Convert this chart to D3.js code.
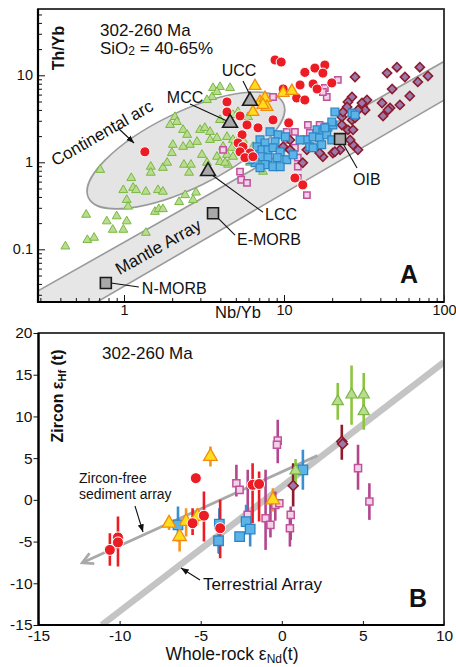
<!DOCTYPE html>
<html><head><meta charset="utf-8">
<script src="https://cdn.jsdelivr.net/npm/d3@7"></script>
<style>body{margin:0;background:#fff} text{font-family:"Liberation Sans",Arial,Helvetica,sans-serif;fill:#111}</style>
</head><body><svg id="c" width="456" height="667"></svg>
<script>
// ================= DATA =================
// Panel A: Nb/Yb vs Th/Yb (log-log)
const nbYbDomain = [0.29, 100];
const thYbDomain = [0.0248, 57.8];
const xMajorA = [1, 10, 100];
const xMajorLabelsA = ["1", "10", "100"];
const yMajorA = [0.1, 1, 10];
const yMajorLabelsA = ["0.1", "1", "10"];

const mantleUpper = [[0.1, 0.011], [200, 29.6]];
const mantleLower = [[0.1, 0.0032], [200, 10.9]];
const arcEnds = [[0.6, 0.39], [9.9, 4.8]];

const refPoints = [
  {name: "UCC", shape: "tri", v: [6.13, 5.07]},
  {name: "MCC", shape: "tri", v: [4.6, 2.83]},
  {name: "LCC", shape: "tri", v: [3.35, 0.79]},
  {name: "E-MORB", shape: "sq", v: [3.6, 0.26]},
  {name: "N-MORB", shape: "sq", v: [0.77, 0.041]},
  {name: "OIB", shape: "sq", v: [22.4, 1.85]}
];

const greenA = [[0.43,0.108],[0.59,0.128],[0.65,0.136],[0.58,0.25],[0.71,0.82],[0.78,0.21],[0.85,0.168],[0.90,0.24],[0.99,0.168],[1.04,0.21],[0.99,0.48],[1.11,0.66],[1.14,0.51],[1.19,0.48],[1.04,0.37],[1.06,0.31],[1.37,0.46],[1.37,0.155],[1.47,0.89],[1.47,0.76],[1.63,0.48],[1.75,0.46],[1.56,0.27],[1.65,0.29],[1.75,0.29],[1.75,0.865],[1.86,0.99],[2.21,0.35],[2.41,0.42],[2.70,0.37],[2.82,0.45],[2.37,0.94],[2.55,0.76],[2.62,0.94],[3.07,1.22],[3.81,1.16],[3.98,1.01],[4.47,0.94],[3.60,7.15],[3.98,7.34],[3.55,5.63],[3.30,5.2],[4.60,7.15],[3.81,6.43],[1.94,2.69],[2.08,3.32],[2.14,2.91],[2.02,1.59],[1.99,1.28],[3.98,3.07],[5.16,3.79],[4.80,3.50],[5.96,3.32],[2.34,2.36],[2.48,2.07],[2.99,2.36],[3.20,2.49],[3.45,2.24],[3.45,1.81],[3.81,1.91],[4.40,1.96],[4.80,1.81],[5.31,1.96],[5.54,1.81],[2.86,1.72],[2.58,1.59],[2.34,1.51],[4.40,1.22],[4.80,1.16],[5.87,1.16],[6.78,1.07],[3.30,0.99],[4.16,1.51],[4.73,1.47],[6.40,1.51],[4.28,0.99],[6.13,0.99],[7.39,0.78]];
const pinkA = [[21.7,8.85],[18.0,7.15],[18.5,5.63],[8.54,5.63],[17.5,6.43],[16.7,2.69],[14.1,2.69],[14.5,2.18],[10.4,2.24],[11.7,2.24],[10.4,1.81],[11.7,1.47],[12.2,1.13],[12.2,0.89],[12.2,0.66],[4.16,1.39],[5.31,0.78],[5.40,0.63],[5.87,0.58],[13.9,0.42]];
const diamondA = [[27.8,9.55],[44.1,10.6],[50.8,12.4],[57.0,9.55],[70.6,12.4],[79.4,9.8],[68.6,8.4],[47.4,6.96],[61.1,5.78],[53.0,4.57],[46.0,4.22],[41.6,3.41],[26.6,5.63],[25.1,4.94],[33.0,5.20],[31.1,4.33],[23.0,3.32],[23.0,2.69],[26.6,3.07],[25.1,2.36],[27.8,3.24],[32.1,4.0],[29.0,4.0],[23.4,3.79],[24.8,4.33],[41.0,4.81],[44.7,4.0],[27.0,2.36],[27.0,1.59],[29.0,1.39],[22.4,1.39],[20.2,1.28],[17.5,1.16],[13.9,1.39],[13.1,0.99],[9.88,1.51],[10.9,1.81],[10.9,1.39],[20.8,1.32],[25.9,1.81],[16.7,1.28],[30.7,4.81]];
const blueA = [[8.18,2.24],[9.19,2.07],[7.08,1.81],[7.61,1.67],[8.79,1.72],[6.78,1.51],[7.29,1.39],[7.94,1.39],[8.54,1.47],[9.46,1.32],[6.40,1.22],[7.29,1.16],[7.94,1.13],[9.06,1.13],[10.4,1.07],[11.4,1.22],[6.59,0.99],[7.61,0.94],[8.54,0.89],[9.46,0.89],[7.08,0.865],[6.13,1.07],[10.2,1.96],[20.8,3.79],[26.6,3.69],[27.8,3.50],[16.1,2.36],[17.5,2.24],[18.8,2.55],[20.2,2.69],[13.9,1.81],[15.2,1.96],[16.7,1.91],[18.5,2.07],[19.9,1.81],[14.5,1.51],[17.2,1.59],[19.9,2.91],[18.0,2.49],[15.2,1.47],[12.6,1.81]];
const redA = [[1.35,1.32],[4.40,4.94],[4.40,3.79],[5.31,3.41],[8.54,3.07],[10.7,2.84],[6.88,2.49],[5.47,2.07],[5.16,1.67],[5.54,1.51],[5.31,1.32],[6.13,1.28],[5.70,1.13],[6.40,1.16],[11.7,0.66],[13.1,0.55],[8.79,15.0],[9.6,14.2],[15.6,12.1],[18.0,13.1],[17.5,10.6],[13.5,10.8],[12.6,7.74],[15.2,7.95],[16.1,6.96],[19.9,8.17],[9.88,6.96],[12.0,5.49],[13.5,5.20],[5.87,2.69]];
const orangeA = [[6.59,7.53],[9.88,6.27],[11.2,6.61],[7.08,4.94],[7.61,5.49],[7.83,4.33],[6.40,3.79],[7.39,4.57]];

// Panel B: whole-rock eNd(t) vs zircon eHf(t); [eNd, eHf, errLow, errHigh]
const eNdDomain = [-15, 10];
const eHfDomain = [-15, 20];
const xTicksB = [-15, -10, -5, 0, 5, 10];
const yTicksB = [-15, -10, -5, 0, 5, 10, 15, 20];
const terrestrialArray = [[-11.1, -15], [10, 16.5]];
const sedimentArray = [[-12.3, -7.55], [2.2, 5.3]];

const pinkB = [[-2.8,2.0,0.4,4.2],[-2.6,1.2],[-2.1,-1.8,-3.4,3.6],[-1.0,-2.2,-6.0,3.6],[-0.7,-3.0,-4.5,-0.5],[-0.4,-0.6,-2.5,1.0],[-0.15,-0.4],[0.55,-1.8,-4.8,-0.8],[0.5,-3.4,-5.6,-2.0],[-0.25,7.1,4.4,9.6],[-0.3,6.6],[4.7,3.8,1.2,6.6],[5.4,-0.2,-2.4,2.0]];
const diamondB = [[3.7,7.0,4.8,9.0],[3.75,6.7],[0.7,1.7,-0.8,4.4]];
const blueB = [[-6.4,-3.0,-5.0,-0.8],[-3.85,-2.9,-6.5,-1.0],[-3.9,-4.9,-6.4,-2.8],[-2.2,-2.6,-3.6,-0.6],[-1.95,-3.5,-5.6,-1.8],[-2.6,-4.4],[1.3,3.6,1.2,6.0]];
const greenB = [[3.45,11.8,9.6,14.0],[4.3,12.6,9.0,16.1],[5.05,12.6,10.8,15.2],[5.05,10.6,8.4,12.4],[0.85,3.5,2.0,4.9]];
const orangeB = [[-6.95,-2.8,-3.6,-2.0],[-5.9,-2.6,-4.4,-1.0],[-6.3,-4.4,-6.2,-3.4],[-5.2,-2.0,-3.0,-1.0],[-4.4,5.2,4.0,6.4],[-0.55,0.0,-1.4,1.4]];
const redB = [[-10.6,-6.0,-7.9,-4.0],[-10.1,-4.5,-8.0,-2.0],[-10.1,-5.1],[-5.5,-2.8,-4.2,-1.0],[-4.8,-1.9,-5.0,1.0],[-3.8,-3.4,-7.0,0.0],[-5.3,2.6],[-1.8,1.8,-2.8,4.4],[-1.4,1.9,-2.6,3.4]];

// ================= DRAWING =================
const svg = d3.select("#c");
const defs = svg.append("defs");
defs.append("clipPath").attr("id", "clipA").append("rect").attr("x", 38).attr("y", 9).attr("width", 406).attr("height", 293);
defs.append("clipPath").attr("id", "clipB").append("rect").attr("x", 38.5).attr("y", 333).attr("width", 405.5).attr("height", 292);
defs.append("marker").attr("id", "arrB").attr("viewBox", "0 0 10 10").attr("refX", 10).attr("refY", 5)
  .attr("markerWidth", 7).attr("markerHeight", 7).attr("orient", "auto")
  .append("path").attr("d", "M0,1 L10,5 L0,9 z").attr("fill", "#111");

const sym = (type, size) => d3.symbol().type(type).size(size)();

function drawSeries(g, data, sx, sy, st) {
  g.selectAll(null).data(data).join("path")
    .attr("d", sym(st.type, st.size))
    .attr("transform", d => `translate(${sx(d[0])},${sy(d[1])})` + (st.rot ? ` rotate(${st.rot})` : ""))
    .attr("fill", st.fill).attr("stroke", st.stroke).attr("stroke-width", st.sw);
}

// ---------- Panel A ----------
const xA = d3.scaleLog().domain(nbYbDomain).range([38, 444]);
const yA = d3.scaleLog().domain(thYbDomain).range([302, 9]);
const gA = svg.append("g");
const pA = gA.append("g").attr("clip-path", "url(#clipA)");

const band = [mantleUpper[0], mantleUpper[1], mantleLower[1], mantleLower[0]];
pA.append("path").attr("d", d3.line().x(d => xA(d[0])).y(d => yA(d[1]))(band) + "Z")
  .attr("fill", "#e6e6e6").attr("stroke", "none");
[mantleUpper, mantleLower].forEach(l => pA.append("line")
  .attr("x1", xA(l[0][0])).attr("y1", yA(l[0][1])).attr("x2", xA(l[1][0])).attr("y2", yA(l[1][1]))
  .attr("stroke", "#9a9a9a").attr("stroke-width", 1.6));

{
  const p1 = [xA(arcEnds[0][0]), yA(arcEnds[0][1])], p2 = [xA(arcEnds[1][0]), yA(arcEnds[1][1])];
  const cx = (p1[0] + p2[0]) / 2, cy = (p1[1] + p2[1]) / 2;
  const rx = Math.hypot(p2[0] - p1[0], p2[1] - p1[1]) / 2;
  const ang = Math.atan2(p2[1] - p1[1], p2[0] - p1[0]) * 180 / Math.PI;
  pA.append("ellipse").attr("cx", 0).attr("cy", 0).attr("rx", rx).attr("ry", rx * 0.35)
    .attr("transform", `translate(${cx},${cy}) rotate(${ang})`)
    .attr("fill", "#e4e4e4").attr("stroke", "#9a9a9a").attr("stroke-width", 1.6);
}

drawSeries(pA, greenA, xA, yA, {type: d3.symbolTriangle, size: 34, fill: "#b9dc8e", stroke: "#79b843", sw: 1});
drawSeries(pA, pinkA, xA, yA, {type: d3.symbolSquare, size: 40, fill: "#f3d2e8", stroke: "#c0519c", sw: 1.5});
drawSeries(pA, diamondA, xA, yA, {type: d3.symbolSquare, size: 42, rot: 45, fill: "#9b79ad", stroke: "#8c1c2e", sw: 1.6});
drawSeries(pA, blueA, xA, yA, {type: d3.symbolSquare, size: 62, fill: "#5cb3e6", stroke: "#2b84c6", sw: 1.2});
drawSeries(pA, redA, xA, yA, {type: d3.symbolCircle, size: 80, fill: "#ec1c24", stroke: "#fff", sw: 1});
drawSeries(pA, orangeA, xA, yA, {type: d3.symbolTriangle, size: 60, fill: "#ffdc1e", stroke: "#f28c0f", sw: 1.3});

// reference points + labels
const refLab = {
  "UCC": {dx: -11, dy: -25, anchor: "middle", l: [[-7, -20], [0, -6]]},
  "MCC": {dx: -45, dy: -20, anchor: "middle", l: [[-40, -19], [-3, -2]]},
  "LCC": {dx: 57, dy: 49, anchor: "start", l: [[3, 3], [55, 41]]},
  "E-MORB": {dx: 24, dy: 32, anchor: "start", l: [[4, 4], [22, 22]]},
  "N-MORB": {dx: 36, dy: 11, anchor: "start", l: [[5, 0], [33, 4]]},
  "OIB": {dx: 13, dy: 46, anchor: "start", l: [[2, 3], [17, 29]]}
};
refPoints.forEach(r => {
  const px = xA(r.v[0]), py = yA(r.v[1]), L = refLab[r.name];
  gA.append("line").attr("x1", px + L.l[0][0]).attr("y1", py + L.l[0][1]).attr("x2", px + L.l[1][0]).attr("y2", py + L.l[1][1])
    .attr("stroke", "#111").attr("stroke-width", 1.1);
  gA.append("path").attr("d", r.shape === "tri" ? sym(d3.symbolTriangle, 95) : sym(d3.symbolSquare, 120))
    .attr("transform", `translate(${px},${py})`).attr("fill", "#a9a9a9").attr("stroke", "#1a1a1a").attr("stroke-width", 1.6);
  gA.append("text").attr("x", px + L.dx).attr("y", py + L.dy).attr("text-anchor", L.anchor)
    .attr("font-size", 16).text(r.name);
});

// axes A
function minorLog(dom) {
  const out = [];
  for (let e = -3; e <= 3; e++) for (let k = 2; k <= 9; k++) {
    const v = k * Math.pow(10, e);
    if (v > dom[0] && v < dom[1]) out.push(v);
  }
  return out;
}
const axA = gA.append("g").attr("transform", "translate(0,302)");
axA.call(d3.axisBottom(xA).tickValues(minorLog(nbYbDomain)).tickSize(-4).tickFormat(""));
axA.call(g => g.select(".domain").remove());
const axA2 = gA.append("g").attr("transform", "translate(0,302)");
axA2.call(d3.axisBottom(xA).tickValues(xMajorA).tickSize(-7).tickPadding(3).tickFormat((d, i) => xMajorLabelsA[i]));
axA2.select(".domain").remove();
const ayA = gA.append("g").attr("transform", "translate(38,0)");
ayA.call(d3.axisLeft(yA).tickValues(minorLog(thYbDomain)).tickSize(-4).tickFormat(""));
ayA.select(".domain").remove();
const ayA2 = gA.append("g").attr("transform", "translate(38,0)");
ayA2.call(d3.axisLeft(yA).tickValues(yMajorA).tickSize(-7).tickPadding(5).tickFormat((d, i) => yMajorLabelsA[i]));
ayA2.select(".domain").remove();
gA.selectAll(".tick text").attr("font-size", 14.5).attr("font-family", "Liberation Sans, Arial, sans-serif").attr("fill", "#111");
gA.selectAll(".tick line").attr("stroke", "#111");

gA.append("rect").attr("x", 38).attr("y", 9).attr("width", 406).attr("height", 293)
  .attr("fill", "none").attr("stroke", "#2a2a2a").attr("stroke-width", 1.8);
gA.append("path").attr("d", "M38,9 V302 H444").attr("fill", "none").attr("stroke", "#000").attr("stroke-width", 2.2);

// texts A
gA.append("text").attr("x", 100).attr("y", 36).attr("font-size", 17).text("302-260 Ma");
{
  const t = gA.append("text").attr("x", 100).attr("y", 54).attr("font-size", 17);
  t.append("tspan").text("SiO");
  t.append("tspan").attr("font-size", 12).attr("dy", 1).text("2");
  t.append("tspan").attr("dy", -1).text(" = 40-65%");
}
gA.append("text").attr("transform", "translate(64,48) rotate(-90)").attr("text-anchor", "middle")
  .attr("font-size", 16).attr("font-weight", "bold").text("Th/Yb");
gA.append("text").attr("x", 238).attr("y", 318).attr("text-anchor", "middle").attr("font-size", 16.5).text("Nb/Yb");
gA.append("text").attr("transform", "translate(105,138) rotate(-30)").attr("text-anchor", "middle")
  .attr("font-size", 17).text("Continental arc");
gA.append("line").attr("x1", 118).attr("y1", 128).attr("x2", 134).attr("y2", 143)
  .attr("stroke", "#111").attr("stroke-width", 1.1).attr("marker-end", "url(#arrB)");
gA.append("text").attr("transform", "translate(161,252) rotate(-29.3)").attr("text-anchor", "middle")
  .attr("font-size", 17).text("Mantle Array");
gA.append("text").attr("x", 409).attr("y", 283).attr("text-anchor", "middle").attr("font-size", 25)
  .attr("font-weight", "bold").text("A");

// ---------- Panel B ----------
const xB = d3.scaleLinear().domain(eNdDomain).range([38.5, 444]);
const yB = d3.scaleLinear().domain(eHfDomain).range([625, 333]);
const gB = svg.append("g");
const pB = gB.append("g").attr("clip-path", "url(#clipB)");

pB.append("line").attr("x1", xB(terrestrialArray[0][0])).attr("y1", yB(terrestrialArray[0][1]))
  .attr("x2", xB(terrestrialArray[1][0])).attr("y2", yB(terrestrialArray[1][1]))
  .attr("stroke", "#c4c4c4").attr("stroke-width", 6.5);
{
  const s0 = [xB(sedimentArray[0][0]), yB(sedimentArray[0][1])], s1 = [xB(sedimentArray[1][0]), yB(sedimentArray[1][1])];
  pB.append("line").attr("x1", s0[0]).attr("y1", s0[1]).attr("x2", s1[0]).attr("y2", s1[1])
    .attr("stroke", "#a9a9a9").attr("stroke-width", 2.8);
  const a = Math.atan2(s1[1] - s0[1], s1[0] - s0[0]);
  const hl = 12, ha = 0.5;
  pB.append("path").attr("d", `M${s0[0] + hl * Math.cos(a - ha)},${s0[1] + hl * Math.sin(a - ha)} L${s0[0]},${s0[1]} L${s0[0] + hl * Math.cos(a + ha)},${s0[1] + hl * Math.sin(a + ha)}`)
    .attr("fill", "none").attr("stroke", "#a9a9a9").attr("stroke-width", 2.8).attr("stroke-linejoin", "miter");
}

const seriesB = [
  {d: pinkB, bar: "#b4468e", st: {type: d3.symbolSquare, size: 50, fill: "#f3d2e8", stroke: "#c0519c", sw: 1.5}},
  {d: diamondB, bar: "#8c1c2e", st: {type: d3.symbolSquare, size: 50, rot: 45, fill: "#9b79ad", stroke: "#8c1c2e", sw: 1.6}},
  {d: blueB, bar: "#3a8fd3", st: {type: d3.symbolSquare, size: 90, fill: "#5cb3e6", stroke: "#2b84c6", sw: 1.3}},
  {d: greenB, bar: "#8cc63e", st: {type: d3.symbolTriangle, size: 55, fill: "#b9dc8e", stroke: "#79b843", sw: 1.2}},
  {d: orangeB, bar: "#f7941d", st: {type: d3.symbolTriangle, size: 80, fill: "#ffdc1e", stroke: "#f28c0f", sw: 1.3}},
  {d: redB, bar: "#ec1c24", st: {type: d3.symbolCircle, size: 95, fill: "#ec1c24", stroke: "#fff", sw: 1}}
];
seriesB.forEach(s => {
  pB.selectAll(null).data(s.d.filter(d => d.length === 4)).join("line")
    .attr("x1", d => xB(d[0])).attr("x2", d => xB(d[0])).attr("y1", d => yB(d[2])).attr("y2", d => yB(d[3]))
    .attr("stroke", s.bar).attr("stroke-width", 2.6);
});
seriesB.forEach(s => drawSeries(pB, s.d, xB, yB, s.st));

// axes B
const axB = gB.append("g").attr("transform", "translate(0,625)");
axB.call(d3.axisBottom(xB).tickValues(xTicksB).tickSize(-4).tickPadding(5).tickFormat(d3.format("d")));
axB.select(".domain").remove();
const ayB = gB.append("g").attr("transform", "translate(38.5,0)");
ayB.call(d3.axisLeft(yB).tickValues(yTicksB).tickSize(5).tickPadding(1).tickFormat(d3.format("d")));
ayB.select(".domain").remove();
gB.selectAll(".tick text").attr("font-size", 15.5).attr("font-family", "Liberation Sans, Arial, sans-serif").attr("fill", "#111");
gB.selectAll(".tick line").attr("stroke", "#111");
gB.selectAll(".tick text").text(function() { return this.textContent.replace("−", "-"); });

gB.append("rect").attr("x", 38.5).attr("y", 333).attr("width", 405.5).attr("height", 292)
  .attr("fill", "none").attr("stroke", "#2a2a2a").attr("stroke-width", 1.8);
gB.append("path").attr("d", "M38.5,333 V625 H444").attr("fill", "none").attr("stroke", "#000").attr("stroke-width", 2.2);

gB.append("text").attr("x", 102).attr("y", 359).attr("font-size", 17).text("302-260 Ma");
{
  const t = gB.append("text").attr("transform", "translate(63,396) rotate(-90)").attr("text-anchor", "middle")
    .attr("font-size", 16).attr("font-weight", "bold");
  t.append("tspan").text("Zircon ε");
  t.append("tspan").attr("font-size", 11).attr("dy", 3).text("Hf");
  t.append("tspan").attr("dy", -3).text(" (t)");
}
{
  const t = gB.append("text").attr("x", 232).attr("y", 660).attr("text-anchor", "middle").attr("font-size", 17.5);
  t.append("tspan").text("Whole-rock ε");
  t.append("tspan").attr("font-size", 12).attr("dy", 2.5).text("Nd");
  t.append("tspan").attr("dy", -2.5).text("(t)");
}
gB.append("text").attr("x", 79).attr("y", 483).attr("font-size", 14).text("Zircon-free");
gB.append("text").attr("x", 79).attr("y", 499).attr("font-size", 14).text("sediment array");
gB.append("line").attr("x1", 135).attr("y1", 506).attr("x2", 143).attr("y2", 532)
  .attr("stroke", "#111").attr("stroke-width", 1.1).attr("marker-end", "url(#arrB)");
gB.append("text").attr("x", 203).attr("y", 590).attr("font-size", 17).text("Terrestrial Array");
gB.append("line").attr("x1", 200).attr("y1", 580).attr("x2", 181).attr("y2", 568)
  .attr("stroke", "#111").attr("stroke-width", 1.1).attr("marker-end", "url(#arrB)");
gB.append("text").attr("x", 418).attr("y", 607).attr("text-anchor", "middle").attr("font-size", 25)
  .attr("font-weight", "bold").text("B");
</script></body></html>
